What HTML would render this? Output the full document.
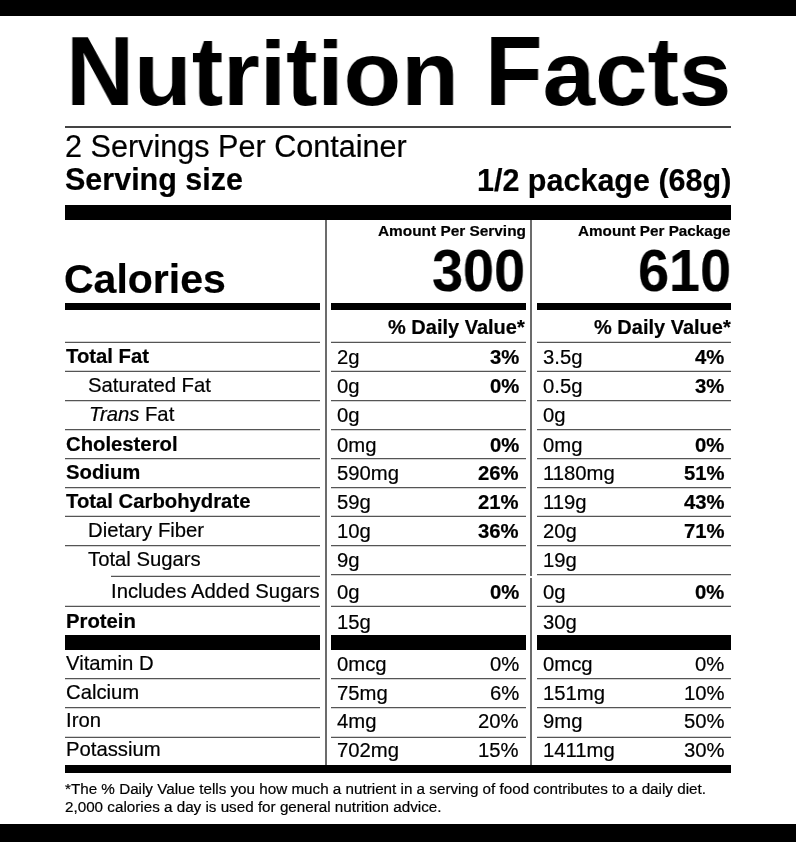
<!DOCTYPE html>
<html><head><meta charset="utf-8"><style>
html,body{margin:0;padding:0;background:#fff;}
body{width:796px;height:842px;position:relative;overflow:hidden;font-family:"Liberation Sans",sans-serif;color:#000;}
.t{position:absolute;line-height:1;white-space:nowrap;will-change:transform;-webkit-text-stroke:0.2px #000;}
.b{position:absolute;}
b{font-weight:700}
.ts{display:inline-block;transform:scaleY(0.924);transform-origin:0 82.96px;}
</style></head><body>
<div class="b" style="left:0px;top:0px;width:796px;height:16px;background:#000"></div>
<div class="b" style="left:0px;top:824px;width:796px;height:18px;background:#000"></div>
<div class="t" style="left:66px;top:22.04px;font-size:98px;font-weight:700;-webkit-text-stroke:0;transform:scaleX(0.962);transform-origin:0 0">N<span class="ts">u</span>t<span class="ts">r</span><span class="ts">i</span>t<span class="ts">i</span><span class="ts">o</span><span class="ts">n</span> F<span class="ts">a</span><span class="ts">c</span>t<span class="ts">s</span></div>
<div class="b" style="left:65px;top:126px;width:666px;height:2px;background:#444"></div>
<div class="t" style="left:65px;top:130.60px;font-size:30.6px;">2 Servings Per Container</div>
<div class="t" style="left:65px;top:164.38px;font-size:30.5px;font-weight:700;">Serving size</div>
<div class="t" style="right:65px;top:165.08px;font-size:30.5px;font-weight:700;">1/2 package (68g)</div>
<div class="b" style="left:65px;top:205px;width:666px;height:15px;background:#000"></div>
<div class="b" style="left:325px;top:220px;width:2px;height:545px;background:#6c6c6c"></div>
<div class="b" style="left:530px;top:220px;width:2px;height:356px;background:#6c6c6c"></div>
<div class="b" style="left:530px;top:578px;width:2px;height:187px;background:#6c6c6c"></div>
<div class="t" style="right:270px;top:222.86px;font-size:15.4px;font-weight:700;">Amount Per Serving</div>
<div class="t" style="right:65px;top:222.99px;font-size:15.25px;font-weight:700;">Amount Per Package</div>
<div class="t" style="right:271px;top:241.41px;font-size:60px;font-weight:700;transform:scaleX(0.93);transform-origin:100% 0;">300</div>
<div class="t" style="right:65px;top:241.41px;font-size:60px;font-weight:700;transform:scaleX(0.93);transform-origin:100% 0;">610</div>
<div class="t" style="left:64px;top:258.69px;font-size:41px;font-weight:700;">Calories</div>
<div class="b" style="left:65px;top:303px;width:255px;height:7px;background:#000"></div>
<div class="b" style="left:331px;top:303px;width:195px;height:7px;background:#000"></div>
<div class="b" style="left:537px;top:303px;width:194px;height:7px;background:#000"></div>
<div class="t" style="right:271px;top:317.17px;font-size:20px;font-weight:700;">% Daily Value*</div>
<div class="t" style="right:65.5px;top:317.17px;font-size:20px;font-weight:700;">% Daily Value*</div>
<div class="b" style="left:65px;top:342px;width:255px;height:1px;background:#555"></div>
<div class="b" style="left:65px;top:341px;width:255px;height:1px;background:#d4d4d4"></div>
<div class="b" style="left:331px;top:342px;width:195px;height:1px;background:#555"></div>
<div class="b" style="left:331px;top:341px;width:195px;height:1px;background:#d4d4d4"></div>
<div class="b" style="left:537px;top:342px;width:194px;height:1px;background:#555"></div>
<div class="b" style="left:537px;top:341px;width:194px;height:1px;background:#d4d4d4"></div>
<div class="b" style="left:65px;top:371px;width:255px;height:1px;background:#555"></div>
<div class="b" style="left:65px;top:370px;width:255px;height:1px;background:#d4d4d4"></div>
<div class="b" style="left:331px;top:371px;width:195px;height:1px;background:#555"></div>
<div class="b" style="left:331px;top:370px;width:195px;height:1px;background:#d4d4d4"></div>
<div class="b" style="left:537px;top:371px;width:194px;height:1px;background:#555"></div>
<div class="b" style="left:537px;top:370px;width:194px;height:1px;background:#d4d4d4"></div>
<div class="b" style="left:65px;top:400px;width:255px;height:1px;background:#555"></div>
<div class="b" style="left:65px;top:401px;width:255px;height:1px;background:#d4d4d4"></div>
<div class="b" style="left:331px;top:400px;width:195px;height:1px;background:#555"></div>
<div class="b" style="left:331px;top:401px;width:195px;height:1px;background:#d4d4d4"></div>
<div class="b" style="left:537px;top:400px;width:194px;height:1px;background:#555"></div>
<div class="b" style="left:537px;top:401px;width:194px;height:1px;background:#d4d4d4"></div>
<div class="b" style="left:65px;top:429px;width:255px;height:1px;background:#555"></div>
<div class="b" style="left:65px;top:430px;width:255px;height:1px;background:#d4d4d4"></div>
<div class="b" style="left:331px;top:429px;width:195px;height:1px;background:#555"></div>
<div class="b" style="left:331px;top:430px;width:195px;height:1px;background:#d4d4d4"></div>
<div class="b" style="left:537px;top:429px;width:194px;height:1px;background:#555"></div>
<div class="b" style="left:537px;top:430px;width:194px;height:1px;background:#d4d4d4"></div>
<div class="b" style="left:65px;top:458px;width:255px;height:1px;background:#555"></div>
<div class="b" style="left:65px;top:459px;width:255px;height:1px;background:#d4d4d4"></div>
<div class="b" style="left:331px;top:458px;width:195px;height:1px;background:#555"></div>
<div class="b" style="left:331px;top:459px;width:195px;height:1px;background:#d4d4d4"></div>
<div class="b" style="left:537px;top:458px;width:194px;height:1px;background:#555"></div>
<div class="b" style="left:537px;top:459px;width:194px;height:1px;background:#d4d4d4"></div>
<div class="b" style="left:65px;top:487px;width:255px;height:1px;background:#555"></div>
<div class="b" style="left:65px;top:488px;width:255px;height:1px;background:#d4d4d4"></div>
<div class="b" style="left:331px;top:487px;width:195px;height:1px;background:#555"></div>
<div class="b" style="left:331px;top:488px;width:195px;height:1px;background:#d4d4d4"></div>
<div class="b" style="left:537px;top:487px;width:194px;height:1px;background:#555"></div>
<div class="b" style="left:537px;top:488px;width:194px;height:1px;background:#d4d4d4"></div>
<div class="b" style="left:65px;top:516px;width:255px;height:1px;background:#555"></div>
<div class="b" style="left:65px;top:515px;width:255px;height:1px;background:#d4d4d4"></div>
<div class="b" style="left:331px;top:516px;width:195px;height:1px;background:#555"></div>
<div class="b" style="left:331px;top:515px;width:195px;height:1px;background:#d4d4d4"></div>
<div class="b" style="left:537px;top:516px;width:194px;height:1px;background:#555"></div>
<div class="b" style="left:537px;top:515px;width:194px;height:1px;background:#d4d4d4"></div>
<div class="b" style="left:65px;top:545px;width:255px;height:1px;background:#555"></div>
<div class="b" style="left:65px;top:546px;width:255px;height:1px;background:#d4d4d4"></div>
<div class="b" style="left:331px;top:545px;width:195px;height:1px;background:#555"></div>
<div class="b" style="left:331px;top:546px;width:195px;height:1px;background:#d4d4d4"></div>
<div class="b" style="left:537px;top:545px;width:194px;height:1px;background:#555"></div>
<div class="b" style="left:537px;top:546px;width:194px;height:1px;background:#d4d4d4"></div>
<div class="b" style="left:111px;top:576px;width:209px;height:1px;background:#555"></div>
<div class="b" style="left:111px;top:575px;width:209px;height:1px;background:#d4d4d4"></div>
<div class="b" style="left:331px;top:574px;width:195px;height:1px;background:#555"></div>
<div class="b" style="left:331px;top:575px;width:195px;height:1px;background:#d4d4d4"></div>
<div class="b" style="left:537px;top:574px;width:194px;height:1px;background:#555"></div>
<div class="b" style="left:537px;top:575px;width:194px;height:1px;background:#d4d4d4"></div>
<div class="b" style="left:65px;top:606px;width:255px;height:1px;background:#555"></div>
<div class="b" style="left:65px;top:605px;width:255px;height:1px;background:#d4d4d4"></div>
<div class="b" style="left:331px;top:606px;width:195px;height:1px;background:#555"></div>
<div class="b" style="left:331px;top:605px;width:195px;height:1px;background:#d4d4d4"></div>
<div class="b" style="left:537px;top:606px;width:194px;height:1px;background:#555"></div>
<div class="b" style="left:537px;top:605px;width:194px;height:1px;background:#d4d4d4"></div>
<div class="t" style="left:65.8px;top:346.22px;font-size:20.3px;"><b>Total Fat</b></div>
<div class="t" style="left:337px;top:347.22px;font-size:20.3px;">2g</div>
<div class="t" style="right:277px;top:347.22px;font-size:20.3px;font-weight:700;">3%</div>
<div class="t" style="left:543px;top:347.22px;font-size:20.3px;">3.5g</div>
<div class="t" style="right:71.5px;top:347.22px;font-size:20.3px;font-weight:700;">4%</div>
<div class="t" style="left:87.5px;top:375.42px;font-size:20.3px;">Saturated Fat</div>
<div class="t" style="left:337px;top:376.42px;font-size:20.3px;">0g</div>
<div class="t" style="right:277px;top:376.42px;font-size:20.3px;font-weight:700;">0%</div>
<div class="t" style="left:543px;top:376.42px;font-size:20.3px;">0.5g</div>
<div class="t" style="right:71.5px;top:376.42px;font-size:20.3px;font-weight:700;">3%</div>
<div class="t" style="left:88.6px;top:404.32px;font-size:20.3px;"><i>Trans</i> Fat</div>
<div class="t" style="left:337px;top:405.32px;font-size:20.3px;">0g</div>
<div class="t" style="left:543px;top:405.32px;font-size:20.3px;">0g</div>
<div class="t" style="left:65.8px;top:433.52px;font-size:20.3px;"><b>Cholesterol</b></div>
<div class="t" style="left:337px;top:434.52px;font-size:20.3px;">0mg</div>
<div class="t" style="right:277px;top:434.52px;font-size:20.3px;font-weight:700;">0%</div>
<div class="t" style="left:543px;top:434.52px;font-size:20.3px;">0mg</div>
<div class="t" style="right:71.5px;top:434.52px;font-size:20.3px;font-weight:700;">0%</div>
<div class="t" style="left:65.8px;top:462.32px;font-size:20.3px;"><b>Sodium</b></div>
<div class="t" style="left:337px;top:463.32px;font-size:20.3px;">590mg</div>
<div class="t" style="right:277px;top:463.32px;font-size:20.3px;font-weight:700;">26%</div>
<div class="t" style="left:543px;top:463.32px;font-size:20.3px;">1180mg</div>
<div class="t" style="right:71.5px;top:463.32px;font-size:20.3px;font-weight:700;">51%</div>
<div class="t" style="left:65.8px;top:491.22px;font-size:20.3px;"><b>Total Carbohydrate</b></div>
<div class="t" style="left:337px;top:492.22px;font-size:20.3px;">59g</div>
<div class="t" style="right:277px;top:492.22px;font-size:20.3px;font-weight:700;">21%</div>
<div class="t" style="left:543px;top:492.22px;font-size:20.3px;">119g</div>
<div class="t" style="right:71.5px;top:492.22px;font-size:20.3px;font-weight:700;">43%</div>
<div class="t" style="left:87.5px;top:520.02px;font-size:20.3px;">Dietary Fiber</div>
<div class="t" style="left:337px;top:521.02px;font-size:20.3px;">10g</div>
<div class="t" style="right:277px;top:521.02px;font-size:20.3px;font-weight:700;">36%</div>
<div class="t" style="left:543px;top:521.02px;font-size:20.3px;">20g</div>
<div class="t" style="right:71.5px;top:521.02px;font-size:20.3px;font-weight:700;">71%</div>
<div class="t" style="left:87.5px;top:548.82px;font-size:20.3px;">Total Sugars</div>
<div class="t" style="left:337px;top:549.82px;font-size:20.3px;">9g</div>
<div class="t" style="left:543px;top:549.82px;font-size:20.3px;">19g</div>
<div class="t" style="left:110.5px;top:581.32px;font-size:20.3px;">Includes Added Sugars</div>
<div class="t" style="left:337px;top:582.32px;font-size:20.3px;">0g</div>
<div class="t" style="right:277px;top:582.32px;font-size:20.3px;font-weight:700;">0%</div>
<div class="t" style="left:543px;top:582.32px;font-size:20.3px;">0g</div>
<div class="t" style="right:71.5px;top:582.32px;font-size:20.3px;font-weight:700;">0%</div>
<div class="t" style="left:65.8px;top:610.52px;font-size:20.3px;"><b>Protein</b></div>
<div class="t" style="left:337px;top:611.52px;font-size:20.3px;">15g</div>
<div class="t" style="left:543px;top:611.52px;font-size:20.3px;">30g</div>
<div class="b" style="left:65px;top:635px;width:255px;height:15px;background:#000"></div>
<div class="b" style="left:331px;top:635px;width:195px;height:15px;background:#000"></div>
<div class="b" style="left:537px;top:635px;width:194px;height:15px;background:#000"></div>
<div class="b" style="left:65px;top:678px;width:255px;height:1px;background:#555"></div>
<div class="b" style="left:65px;top:679px;width:255px;height:1px;background:#d4d4d4"></div>
<div class="b" style="left:331px;top:678px;width:195px;height:1px;background:#555"></div>
<div class="b" style="left:331px;top:679px;width:195px;height:1px;background:#d4d4d4"></div>
<div class="b" style="left:537px;top:678px;width:194px;height:1px;background:#555"></div>
<div class="b" style="left:537px;top:679px;width:194px;height:1px;background:#d4d4d4"></div>
<div class="b" style="left:65px;top:707px;width:255px;height:1px;background:#555"></div>
<div class="b" style="left:65px;top:708px;width:255px;height:1px;background:#d4d4d4"></div>
<div class="b" style="left:331px;top:707px;width:195px;height:1px;background:#555"></div>
<div class="b" style="left:331px;top:708px;width:195px;height:1px;background:#d4d4d4"></div>
<div class="b" style="left:537px;top:707px;width:194px;height:1px;background:#555"></div>
<div class="b" style="left:537px;top:708px;width:194px;height:1px;background:#d4d4d4"></div>
<div class="b" style="left:65px;top:737px;width:255px;height:1px;background:#555"></div>
<div class="b" style="left:65px;top:736px;width:255px;height:1px;background:#d4d4d4"></div>
<div class="b" style="left:331px;top:737px;width:195px;height:1px;background:#555"></div>
<div class="b" style="left:331px;top:736px;width:195px;height:1px;background:#d4d4d4"></div>
<div class="b" style="left:537px;top:737px;width:194px;height:1px;background:#555"></div>
<div class="b" style="left:537px;top:736px;width:194px;height:1px;background:#d4d4d4"></div>
<div class="t" style="left:65.8px;top:652.62px;font-size:20.3px;">Vitamin D</div>
<div class="t" style="left:337px;top:653.62px;font-size:20.3px;">0mcg</div>
<div class="t" style="right:277px;top:653.62px;font-size:20.3px;">0%</div>
<div class="t" style="left:543px;top:653.62px;font-size:20.3px;">0mcg</div>
<div class="t" style="right:71.5px;top:653.62px;font-size:20.3px;">0%</div>
<div class="t" style="left:65.8px;top:681.52px;font-size:20.3px;">Calcium</div>
<div class="t" style="left:337px;top:682.52px;font-size:20.3px;">75mg</div>
<div class="t" style="right:277px;top:682.52px;font-size:20.3px;">6%</div>
<div class="t" style="left:543px;top:682.52px;font-size:20.3px;">151mg</div>
<div class="t" style="right:71.5px;top:682.52px;font-size:20.3px;">10%</div>
<div class="t" style="left:65.8px;top:710.02px;font-size:20.3px;">Iron</div>
<div class="t" style="left:337px;top:711.02px;font-size:20.3px;">4mg</div>
<div class="t" style="right:277px;top:711.02px;font-size:20.3px;">20%</div>
<div class="t" style="left:543px;top:711.02px;font-size:20.3px;">9mg</div>
<div class="t" style="right:71.5px;top:711.02px;font-size:20.3px;">50%</div>
<div class="t" style="left:65.8px;top:739.22px;font-size:20.3px;">Potassium</div>
<div class="t" style="left:337px;top:740.22px;font-size:20.3px;">702mg</div>
<div class="t" style="right:277px;top:740.22px;font-size:20.3px;">15%</div>
<div class="t" style="left:543px;top:740.22px;font-size:20.3px;">1411mg</div>
<div class="t" style="right:71.5px;top:740.22px;font-size:20.3px;">30%</div>
<div class="b" style="left:65px;top:765px;width:666px;height:8px;background:#000"></div>
<div class="t" style="left:65px;top:781.42px;font-size:15.22px;">*The % Daily Value tells you how much a nutrient in a serving of food contributes to a daily diet.</div>
<div class="t" style="left:65px;top:798.62px;font-size:15.22px;">2,000 calories a day is used for general nutrition advice.</div>
</body></html>
